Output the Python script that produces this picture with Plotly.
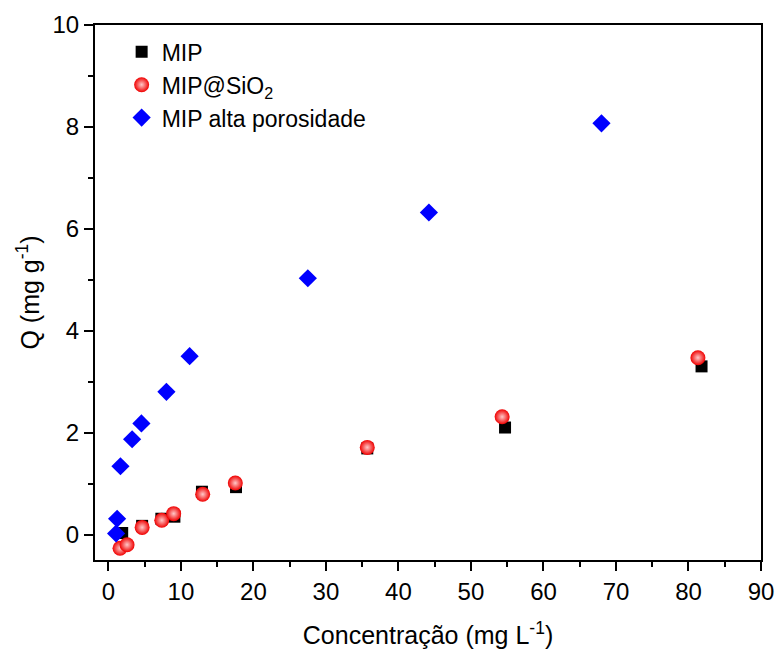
import plotly.graph_objects as go

# MIP (black squares)
mip_x = [1.9, 4.65, 7.3, 9.1, 12.9, 17.6, 35.7, 54.7, 81.8]
mip_y = [0.03, 0.17, 0.31, 0.35, 0.84, 0.93, 1.69, 2.10, 3.30]

# MIP@SiO2 (red spheres)
sio2_x = [1.6, 2.57, 4.65, 7.36, 9.0, 13.0, 17.5, 35.7, 54.3, 81.3]
sio2_y = [-0.27, -0.20, 0.14, 0.28, 0.41, 0.79, 1.01, 1.71, 2.31, 3.47]

# MIP alta porosidade (blue diamonds)
alta_x = [1.06, 1.2, 1.66, 3.27, 4.55, 8.0, 11.2, 27.5, 44.2, 68.0]
alta_y = [0.02, 0.31, 1.34, 1.87, 2.18, 2.80, 3.50, 5.03, 6.32, 8.07]

x_ticks = [0, 10, 20, 30, 40, 50, 60, 70, 80, 90]
y_ticks = [0, 2, 4, 6, 8, 10]

FONT = "Liberation Sans, Arial, sans-serif"

fig = go.Figure()
fig.add_trace(go.Scatter(
    x=mip_x, y=mip_y, mode="markers", name="MIP",
    marker=dict(symbol="square", size=12, color="black", line=dict(width=0))))
fig.add_trace(go.Scatter(
    x=sio2_x, y=sio2_y, mode="markers", name="MIP@SiO<sub>2</sub>",
    marker=dict(symbol="circle", size=15, color="#f00000",
                gradient=dict(type="radial", color="#ffc8c8"),
                line=dict(width=0))))
fig.add_trace(go.Scatter(
    x=alta_x, y=alta_y, mode="markers", name="MIP alta porosidade",
    marker=dict(symbol="diamond", size=14, color="#0000ff", line=dict(width=0))))

axis_common = dict(
    showline=True, linecolor="black", linewidth=2, mirror=True,
    ticks="outside", ticklen=9, tickwidth=2, tickcolor="black",
    showgrid=False, zeroline=False, automargin=False,
    tickfont=dict(family=FONT, size=24, color="black"),
)

fig.update_xaxes(
    range=[-1.85, 90], tickvals=x_ticks,
    minor=dict(ticks="outside", ticklen=5, tickwidth=2, tickcolor="black", dtick=5, tick0=0),
    title=dict(text="Concentração (mg L<sup>-1</sup>)", font=dict(family=FONT, size=25, color="black"), standoff=23),
    **axis_common)
fig.update_yaxes(
    range=[-0.5, 10], tickvals=y_ticks,
    minor=dict(ticks="outside", ticklen=5, tickwidth=2, tickcolor="black", dtick=1, tick0=0),
    title=dict(text="Q (mg g<sup>-1</sup>)", font=dict(family=FONT, size=25, color="black"), standoff=6),
    **axis_common)

fig.update_layout(
    width=778, height=652,
    margin=dict(l=95, r=17, t=25, b=92),
    plot_bgcolor="white", paper_bgcolor="white",
    showlegend=True,
    legend=dict(x=0.04, y=0.99, xanchor="left", yanchor="top",
                font=dict(family=FONT, size=23, color="black"),
                bgcolor="rgba(0,0,0,0)"),
    font=dict(family=FONT),
)

fig.write_html("out.html")
